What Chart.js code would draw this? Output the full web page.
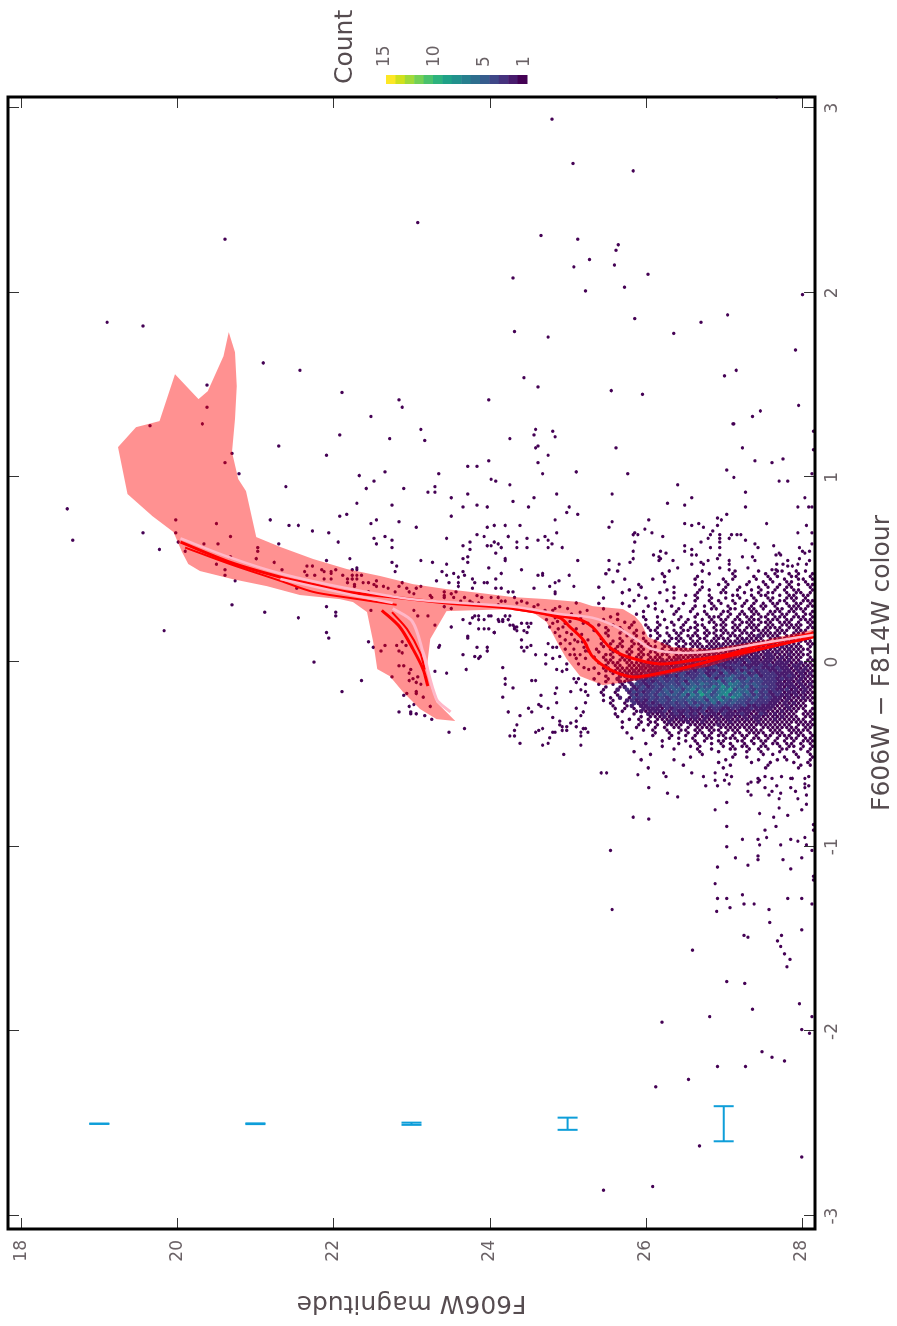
<!DOCTYPE html>
<html>
<head>
<meta charset="utf-8">
<title>F606W colour-magnitude diagram</title>
<script src="https://cdn.jsdelivr.net/npm/chart.js@4/dist/chart.umd.min.js"></script>
<style>
  html, body { margin: 0; background: #fff; overflow: hidden; width: 897px; height: 1326px; }
  /* the figure is a landscape page turned a quarter turn */
  #page { position: absolute; left: 0; top: 0; width: 1326px; height: 897px;
          transform-origin: 0 0; transform: translate(0, 1326px) rotate(-90deg); }
</style>
</head>
<body>
<div id="page"><canvas id="cmd" width="1326" height="897"></canvas></div>
<script>
// Tick labels
const colourTicks = [-3, -2, -1, 0, 1, 2, 3];
const magTicks = [18, 20, 22, 24, 26, 28];
const countTicks = [15, 10, 5, 1];

// Single stars as [F606W, colour]
const farStars = [[24.80,2.94],[25.07,2.70],[25.84,2.66],[23.08,2.38],[20.61,2.29],[24.66,2.31],[25.13,2.29],[25.65,2.26],[25.62,2.23],[25.28,2.18],[25.08,2.14],[25.60,2.15],[26.03,2.10],[24.30,2.08],[25.23,2.01],[25.73,2.03],[28.01,1.99],[19.10,1.84],[19.56,1.82],[25.86,1.86],[24.32,1.79],[26.36,1.78],[26.71,1.84],[27.05,1.88],[24.75,1.76],[27.92,1.69],[21.10,1.62],[21.57,1.58],[27.01,1.55],[27.16,1.58],[25.56,1.47],[24.44,1.54],[24.62,1.49],[25.96,1.45],[27.96,1.39],[22.11,1.46],[23.99,1.42],[27.47,1.36],[27.37,1.33],[27.12,1.29],[27.68,3.06],[20.38,1.50],[20.38,1.38],[19.65,1.28],[20.32,1.29],[21.30,1.17],[20.70,1.13],[20.61,1.08],[20.79,1.02],[21.39,0.95],[19.98,0.77],[21.19,0.77],[21.43,0.74],[21.55,0.74],[20.50,0.75],[19.56,0.70],[19.98,0.70],[20.68,0.68],[19.77,0.61],[20.01,0.65],[20.34,0.64],[20.52,0.64],[21.30,0.64],[21.03,0.62],[21.03,0.60],[21.01,0.56],[20.68,0.57],[20.10,0.60],[21.24,0.54],[21.34,0.50],[20.50,0.53],[20.61,0.50],[20.61,0.47],[20.74,0.44],[20.70,0.31],[21.12,0.27],[21.55,0.24],[21.53,0.40],[18.59,0.83],[18.66,0.66],[19.83,0.17],[21.75,0.00],[22.11,-0.16]];
const midStars = [[22.84,1.42],[22.88,1.38],[22.48,1.33],[23.12,1.26],[24.59,1.26],[24.57,1.23],[24.81,1.25],[24.84,1.22],[22.08,1.23],[24.26,1.21],[22.72,1.21],[23.17,1.20],[24.62,1.17],[24.59,1.16],[21.91,1.12],[24.75,1.12],[23.99,1.09],[24.62,1.08],[23.72,1.06],[23.84,1.06],[25.11,1.03],[22.66,1.03],[23.35,1.02],[24.68,1.02],[22.33,1.01],[22.52,0.98],[24.02,0.99],[24.08,0.98],[22.42,0.94],[22.90,0.94],[23.30,0.95],[23.30,0.92],[23.21,0.92],[24.26,0.96],[23.72,0.91],[24.86,0.91],[23.51,0.89],[24.57,0.89],[24.30,0.87],[22.30,0.86],[22.75,0.85],[23.84,0.85],[23.66,0.84],[23.97,0.84],[24.50,0.84],[25.02,0.84],[24.99,0.81],[25.13,0.80],[22.17,0.80],[22.08,0.79],[22.55,0.77],[23.51,0.79],[24.84,0.77],[22.84,0.76],[22.48,0.75],[23.97,0.73],[24.06,0.74],[24.20,0.74],[24.39,0.74],[23.06,0.73],[21.73,0.71],[21.94,0.70],[24.86,0.70],[23.84,0.69],[23.93,0.68],[24.24,0.68],[24.71,0.68],[22.52,0.67],[22.66,0.68],[22.75,0.66],[23.45,0.67],[22.06,0.65],[24.06,0.65],[24.48,0.67],[24.62,0.66],[24.75,0.66],[24.80,0.64],[22.55,0.64],[23.75,0.65],[24.11,0.64],[23.66,0.63],[24.02,0.63],[23.97,0.63],[24.35,0.65],[24.35,0.62],[24.15,0.62],[24.48,0.62],[22.75,0.62],[24.75,0.62],[24.93,0.62],[23.75,0.61],[24.08,0.59],[23.72,0.57],[22.21,0.56],[23.66,0.56],[24.20,0.56],[24.20,0.55],[25.13,0.55],[21.91,0.55],[23.12,0.55],[23.27,0.54],[22.75,0.54],[22.81,0.52],[23.45,0.53],[23.72,0.54],[23.99,0.51],[24.41,0.50],[23.66,0.49],[22.30,0.51],[22.30,0.50],[22.79,0.49],[23.39,0.49],[23.45,0.47],[23.54,0.48],[24.15,0.48],[23.60,0.46],[23.68,0.47],[24.68,0.48],[24.68,0.47],[24.62,0.47],[25.02,0.47],[24.08,0.45],[23.32,0.44],[23.48,0.43],[23.60,0.43],[23.78,0.45],[23.81,0.43],[23.97,0.43],[23.93,0.43],[24.89,0.44],[24.84,0.43],[24.77,0.41],[25.08,0.41],[23.60,0.41],[23.78,0.40],[24.08,0.40],[24.15,0.40],[24.57,0.40],[24.24,0.38],[24.30,0.38],[24.84,0.38],[24.84,0.37]];
const bandStars = [[21.66,0.52],[21.73,0.52],[21.63,0.49],[21.66,0.47],[21.76,0.47],[21.85,0.50],[21.88,0.49],[21.97,0.49],[21.97,0.48],[22.03,0.50],[21.88,0.45],[21.97,0.45],[22.12,0.47],[22.24,0.50],[22.24,0.47],[22.18,0.45],[22.30,0.47],[22.36,0.47],[22.24,0.45],[22.30,0.45],[22.18,0.43],[22.27,0.42],[22.27,0.41],[22.38,0.43],[22.45,0.43],[22.55,0.44],[22.52,0.42],[22.55,0.41],[22.45,0.38],[22.64,0.41],[22.70,0.40],[22.79,0.38],[22.84,0.41],[22.88,0.43],[22.94,0.40],[22.97,0.38],[23.03,0.37],[23.06,0.40],[23.12,0.41],[23.24,0.36],[23.26,0.35],[23.42,0.38],[23.42,0.36],[23.42,0.35],[23.51,0.37],[23.57,0.38],[23.54,0.35],[23.63,0.33],[23.68,0.35],[23.75,0.33],[23.78,0.32],[23.84,0.36],[23.90,0.35],[23.86,0.32],[24.02,0.35],[24.11,0.35],[24.15,0.33],[24.20,0.33],[24.32,0.35],[24.11,0.31],[24.35,0.32],[24.41,0.33],[24.48,0.32],[24.57,0.30],[24.62,0.31],[24.71,0.28],[24.84,0.29],[25.11,0.32],[23.51,0.29],[23.42,0.30]];
const lobeStars = [[21.91,0.30],[22.03,0.27],[22.03,0.25],[21.91,0.16],[21.94,0.13],[22.48,0.28],[23.03,0.28],[23.08,0.25],[23.21,0.25],[23.30,0.20],[23.51,0.19],[23.66,0.23],[23.75,0.21],[23.78,0.24],[23.81,0.25],[23.86,0.25],[23.86,0.23],[23.93,0.23],[23.99,0.25],[24.02,0.25],[24.11,0.23],[24.17,0.23],[24.20,0.25],[24.26,0.25],[24.24,0.23],[24.30,0.20],[24.35,0.19],[24.41,0.21],[24.48,0.21],[24.50,0.19],[24.44,0.17],[24.48,0.16],[24.53,0.21],[24.35,0.17],[24.32,0.18],[23.86,0.18],[23.93,0.18],[23.99,0.18],[24.06,0.16],[23.72,0.14],[23.72,0.13],[22.45,0.11],[22.51,0.08],[22.61,0.06],[22.66,0.09],[22.88,0.11],[22.93,0.09],[22.81,0.09],[22.84,0.06],[22.88,0.05],[22.84,-0.02],[22.90,-0.02],[22.99,-0.04],[22.97,-0.06],[23.30,-0.05],[23.45,-0.06],[23.70,-0.04],[22.75,-0.08],[23.02,-0.09],[23.08,-0.08],[22.97,-0.10],[23.06,-0.11],[23.12,-0.12],[22.36,-0.10],[23.06,-0.16],[22.94,-0.17],[22.90,-0.18],[23.06,-0.17],[23.03,-0.23],[23.15,-0.19],[22.97,-0.24],[23.24,-0.24],[22.84,-0.27],[22.99,-0.27],[22.99,-0.28],[23.06,-0.28],[23.17,-0.29],[23.26,-0.31],[23.48,-0.38],[23.68,-0.36],[23.36,0.09],[23.35,0.08],[23.66,0.04],[23.81,0.03],[23.86,0.02],[23.84,0.08],[23.97,0.08],[23.97,0.06],[23.88,0.03],[24.06,0.16]];
const turnoffStars = [[24.17,-0.03],[24.20,-0.09],[24.20,-0.12],[24.30,-0.14],[24.17,-0.19],[24.24,-0.27],[24.39,-0.29],[24.35,-0.34],[24.32,-0.37],[24.26,-0.40],[24.32,-0.40],[24.39,-0.44],[24.68,-0.45],[24.75,-0.44],[24.59,-0.38],[24.63,-0.37],[24.68,-0.36],[24.81,-0.38],[24.84,-0.38],[24.77,-0.41],[24.93,-0.37],[24.99,-0.37],[24.90,-0.34],[24.93,-0.35],[24.99,-0.35],[25.04,-0.33],[25.11,-0.32],[25.11,-0.35],[25.17,-0.29],[24.81,-0.30],[24.90,-0.32],[24.75,-0.25],[24.63,-0.23],[24.66,-0.24],[24.50,-0.25],[24.54,-0.27],[24.66,-0.18],[24.86,-0.22],[24.84,-0.17],[24.86,-0.14],[24.54,-0.10],[24.59,-0.10],[25.04,-0.16],[25.11,-0.25],[25.20,-0.27],[25.23,-0.36],[25.20,-0.36],[25.26,-0.38],[25.17,-0.38],[25.17,-0.40],[25.17,-0.45],[24.95,-0.50],[25.43,-0.60],[25.50,-0.60],[25.17,-0.15],[25.23,-0.12],[25.23,-0.16],[25.26,-0.18],[25.23,-0.22],[24.41,0.12],[24.53,0.09],[24.41,0.08],[24.48,0.08],[24.44,0.06],[24.75,0.10],[24.81,0.08],[24.86,0.08],[24.59,0.04],[24.72,0.04],[24.81,0.02],[24.90,0.03],[24.72,-0.01],[24.99,-0.01],[24.86,-0.04],[24.93,-0.05],[24.99,-0.04],[25.08,-0.09],[25.14,-0.09],[25.11,-0.11],[24.12,0.22],[24.17,0.22],[24.26,0.20],[24.32,0.19],[24.73,0.23],[24.77,0.19],[24.81,0.21],[24.84,0.16],[24.88,0.18],[24.90,0.14],[24.94,0.19],[24.97,0.12],[24.99,0.16],[25.03,0.10],[25.05,0.15],[25.08,0.07],[25.11,0.18],[25.13,0.11],[25.16,0.04],[25.18,0.15],[25.21,0.08],[25.23,0.02],[25.26,0.21],[25.26,0.12],[25.09,0.04],[25.14,-0.01],[25.21,-0.03],[25.27,-0.04],[25.03,0.22],[24.97,0.21],[24.91,0.10],[24.87,0.22],[25.20,0.21],[25.23,0.06],[25.11,0.02],[25.05,0.26],[25.16,0.27],[25.25,0.28],[25.00,0.29],[24.90,0.30],[24.81,0.28],[24.84,0.24],[25.17,0.24],[25.09,0.12],[25.19,0.11],[25.26,0.06],[25.03,0.04],[24.97,0.07]];
const faintBlueStars = [[25.90,-0.61],[26.23,-0.60],[26.26,-0.62],[26.59,-0.60],[26.74,-0.62],[26.89,-0.60],[27.04,-0.61],[27.10,-0.62],[26.89,-0.64],[27.01,-0.64],[26.92,-0.67],[27.07,-0.66],[26.77,-0.67],[27.31,-0.66],[27.35,-0.65],[27.44,-0.63],[27.44,-0.65],[27.46,-0.64],[27.53,-0.62],[27.62,-0.63],[27.74,-0.62],[27.86,-0.63],[27.88,-0.63],[28.04,-0.63],[28.09,-0.62],[28.04,-0.66],[28.09,-0.67],[27.53,-0.68],[27.68,-0.67],[27.86,-0.68],[28.04,-0.68],[26.04,-0.68],[27.31,-0.70],[27.62,-0.70],[27.92,-0.70],[26.28,-0.71],[27.35,-0.72],[27.73,-0.71],[27.58,-0.72],[28.06,-0.72],[26.41,-0.73],[27.71,-0.74],[27.95,-0.74],[27.04,-0.76],[28.06,-0.77],[26.89,-0.80],[27.71,-0.79],[28.00,-0.80],[27.46,-0.82],[27.82,-0.83],[25.84,-0.84],[26.04,-0.85],[27.64,-0.84],[27.04,-0.89],[27.67,-0.89],[27.53,-0.91],[27.55,-0.95],[28.15,-0.88],[28.15,-0.91],[28.04,-0.95],[27.24,-0.96],[27.44,-0.96],[27.86,-0.96],[27.95,-0.97],[27.46,-0.99],[27.73,-0.99],[27.04,-1.00],[28.06,-0.99],[25.55,-1.02],[28.13,-1.02],[27.15,-1.06],[27.44,-1.05],[27.44,-1.07],[27.76,-1.07],[28.00,-1.06],[27.31,-1.10],[26.92,-1.11],[27.86,-1.12],[28.15,-1.16],[28.15,-1.18],[26.89,-1.20],[27.24,-1.26],[26.92,-1.28],[27.04,-1.28],[27.82,-1.28],[25.57,-1.34],[27.08,-1.33],[27.26,-1.31],[27.39,-1.31],[27.58,-1.34],[28.00,-1.28],[28.13,-1.31],[26.91,-1.35],[27.59,-1.41],[27.26,-1.48],[27.31,-1.49],[27.74,-1.48],[28.00,-1.45],[27.69,-1.51],[27.73,-1.54],[27.78,-1.58],[27.85,-1.61],[27.81,-1.65],[27.27,-1.74],[27.04,-1.73],[26.60,-1.56],[27.37,-1.88],[27.97,-1.85],[28.13,-1.92],[26.21,-1.95],[26.82,-1.92],[28.00,-1.99],[28.10,-2.01],[27.49,-2.11],[27.62,-2.14],[27.78,-2.16],[27.28,-2.19],[26.92,-2.19],[26.55,-2.26],[26.13,-2.30],[26.69,-2.62],[28.00,-2.68],[26.09,-2.84],[25.46,-2.86]];
const faintRedStars = [[27.13,1.29],[28.15,1.25],[25.62,1.16],[27.24,1.16],[28.15,1.15],[27.40,1.09],[27.62,1.08],[27.76,1.10],[27.04,1.04],[25.77,1.02],[28.13,1.02],[27.13,1.00],[27.71,0.98],[27.82,0.98],[26.41,0.96],[25.57,0.91],[27.28,0.92],[26.59,0.89],[28.04,0.89],[26.28,0.86],[26.50,0.85],[27.28,0.84],[27.95,0.84],[28.09,0.84],[28.13,0.84],[27.04,0.80],[26.92,0.78],[26.97,0.77],[26.04,0.77],[25.57,0.76],[26.50,0.75],[26.68,0.75],[26.92,0.74],[26.59,0.74],[26.74,0.73],[27.55,0.75],[28.06,0.74],[25.53,0.73],[25.99,0.72],[26.86,0.71],[25.86,0.70],[26.08,0.70],[25.84,0.69],[25.90,0.69],[26.83,0.69],[26.95,0.69],[27.10,0.69],[27.17,0.69],[27.22,0.69],[27.95,0.70],[28.13,0.70],[26.22,0.68],[26.80,0.67],[26.95,0.67],[27.07,0.67],[27.28,0.66],[25.86,0.65],[26.71,0.65],[26.95,0.65],[27.40,0.64],[28.13,0.64],[26.50,0.63],[26.83,0.62],[26.95,0.62],[27.44,0.62],[27.64,0.63],[27.97,0.62],[25.84,0.60],[26.19,0.60],[26.59,0.61],[26.50,0.60],[28.01,0.60],[28.04,0.59],[28.10,0.60],[26.10,0.58],[26.26,0.59],[26.59,0.58],[26.65,0.58],[26.95,0.58],[27.67,0.58],[27.71,0.59],[27.73,0.58],[26.17,0.57],[26.19,0.56],[26.17,0.55],[26.92,0.56],[27.24,0.57],[27.37,0.57],[27.97,0.56],[28.10,0.55],[25.84,0.56],[26.35,0.55],[27.07,0.55],[27.40,0.55],[25.53,0.55],[26.80,0.55],[26.71,0.54],[26.74,0.53],[25.66,0.53],[25.80,0.54],[26.59,0.53],[27.07,0.53],[27.68,0.53],[27.76,0.53],[27.82,0.55],[27.95,0.53],[28.06,0.53],[27.88,0.52],[25.53,0.50],[26.41,0.51],[26.95,0.51],[27.07,0.50],[27.31,0.51],[27.82,0.52],[27.67,0.50],[27.62,0.50]];

// Hexbin counts in the crowded faint part, one string per colour row, one hex digit per bin
const hexFirstMag = 25.28;
const hexMagStep = 0.0602;
const hexFirstColour = 0.493;
const hexColourStep = -0.0146;
const hexCounts = [
  '000000100000000001000000100000010000100011001010',
  '000100000000000100000000010000100000010100101001',
  '000000000000000010000001000000010001001010011001',
  '000000010000010000000010000010100001001001001101',
  '000001000000000010000000100001000010010100110010',
  '000000000010000000000010000101000100010010101011',
  '001000000001000000100000100001001000101010110001',
  '000000001000000010000001010010010010100101011001',
  '000000010000000100100001000011000100101100101101',
  '000000000010000000001010010000110010110010110110',
  '000100000000100000100001001001001001001100111010',
  '000000000100000010000010010100100101001011010111',
  '001000010000001000001000001010010101010110101101',
  '000000001000100001000010101001001010110100111011',
  '000100000000001000010010001100110011010011011110',
  '000000000001000100100100100011001011001110110101',
  '000000100010000000100001010010101101101101101011',
  '000010000001001000010010011101010110110111011101',
  '000100100000100010010100101011011011101110110111',
  '000000010100001001001010011010101110111011101011',
  '001001000100100100101001100111011011101101111101',
  '000100101000101010010110101010110111011110111011',
  '010010010010011000101101010111011101111011101110',
  '000100100101001010110010111011101110111111011101',
  '000010001010010101010111010110111011211110111011',
  '001000100101001001110101101111011111101121111110',
  '000101010100101011011011011101111211111011210111',
  '001010100110100110101111011111121111212111111011',
  '000100110101011011011011111121111211111212111101',
  '010011001011010101111101112111211121211111211110',
  '001001101101011011101111121111212122112121111101',
  '000110101011101110111211112121112212122111211110',
  '010101011011011101121112121212221212212212111101',
  '000110111010111211211121212222122322122121211011',
  '001011101111122121232323212232223132222122211211',
  '000101101112212221231222323223332222323222122111',
  '010110111112122232232323323432233423322232212121',
  '000111111212122331323324322343242342332232212211',
  '001001012121322323434233423425334523233322221212',
  '000100211321323323243334524334543435233322321211',
  '010010201223233433434434454245643354433323221211',
  '000100212032323434342545445635464534433321212111',
  '001001010243234344435354654464765445433322221212',
  '000100120234234345445565447585654635443321221211',
  '000100203324334354553574656476946543433322312121',
  '001001002432343453546648574678565636342331221211',
  '000100100324343545546375964578467453433232212111',
  '000010201433343434454656465746865445343221211211',
  '000101002323243443544545536575454434333221211111',
  '000010010322323434343534546354544343332212121101',
  '000001001202233233434345343443433422322211211110',
  '000001010102222132333232423322332232222111211101',
  '000000010012122231322322312323212221221112111011',
  '000001000100211212323231322132223211321211110111',
  '000000100001011121221322121212211212211112111011',
  '000000001010101112122121211212121212111211111101',
  '000000010001011012111211211111211111211111111111',
  '000000000010101011110111111211111111111111101111',
  '000000010010001010110101111011111111011111111011',
  '000000000001010010011011011101110111101110111110',
  '000000001000001001010101101011011011110111011101',
  '000000000000010001001010110110101101011011101101',
  '000000000100000001010010011001110101101010111011',
  '000000000000000100001010100110011010110101010111',
  '000000000000100000010001001010100101010110110101',
  '000000000000000100000101000010101100110010110101',
  '000000000000000000100001001000110010101001100101',
  '000000000100000000000001000100000100100010010010',
  '000000000000010000000000100000010000010100001001',
  '000000000000000000000100000000100100000001001001',
  '000000000001000000100000000001000000100010100001',
  '000000000000000000000000000100000010001000010010',
  '000000000000000000001000000000100000001000000101',
  '000000000000100000000000000010000000010000001000',
];

// Model envelope outline, as [F606W, colour]
const envelope = [[20.66,1.787],[20.74,1.678],[20.76,1.494],[20.74,1.316],[20.70,1.137],[20.78,0.991],[20.88,0.926],[21.01,0.677],[21.32,0.623],[21.74,0.558],[22.17,0.504],[22.60,0.466],[23.02,0.422],[23.45,0.395],[23.88,0.374],[24.30,0.352],[24.73,0.341],[25.16,0.325],[25.32,0.303],[25.71,0.287],[25.86,0.249],[25.95,0.206],[26.03,0.135],[26.35,0.081],[26.82,0.070],[27.46,0.114],[28.19,0.179],[28.19,0.135],[27.46,0.060],[26.82,-0.022],[26.18,-0.076],[25.76,-0.108],[25.45,-0.125],[25.16,-0.076],[24.99,0.016],[24.90,0.081],[24.73,0.217],[24.55,0.271],[24.30,0.287],[23.45,0.276],[23.24,0.125],[23.20,-0.022],[23.24,-0.119],[23.32,-0.217],[23.56,-0.319],[23.32,-0.309],[23.11,-0.254],[22.89,-0.162],[22.72,-0.076],[22.56,-0.038],[22.51,0.108],[22.43,0.271],[22.25,0.325],[22.08,0.341],[21.57,0.363],[21.15,0.411],[20.71,0.449],[20.29,0.493],[20.14,0.531],[20.06,0.596],[19.95,0.704],[19.68,0.790],[19.36,0.910],[19.24,1.164],[19.47,1.272],[19.77,1.305],[19.97,1.559],[20.27,1.424],[20.39,1.467],[20.59,1.657]];

// Isochrones as [F606W, colour]
const isoRedA = [[20.04,0.65],[20.68,0.54],[21.32,0.46],[21.74,0.42],[22.17,0.38],[22.81,0.35],[23.45,0.32],[24.30,0.29],[24.90,0.24],[25.03,0.19],[25.20,0.12],[25.32,0.03],[25.54,-0.04],[25.83,-0.08],[26.18,-0.06],[26.60,-0.02],[27.04,0.03],[27.46,0.07],[28.19,0.14]];
const isoRedB = [[24.30,0.29],[24.90,0.25],[25.16,0.23],[25.32,0.19],[25.54,0.08],[25.76,0.03],[26.18,-0.01],[26.60,0.01],[27.04,0.04],[27.46,0.09],[28.19,0.16]];
const isoRedGiant = [[20.10,0.62],[20.68,0.53],[21.32,0.44],[21.74,0.38],[22.17,0.35],[22.81,0.31]];
const isoRedHbA = [[22.62,0.28],[22.85,0.19],[23.02,0.07],[23.15,-0.04],[23.21,-0.13]];
const isoRedHbB = [[22.75,0.27],[22.94,0.18],[23.11,0.05],[23.17,-0.04]];
const isoPinkMain = [[20.04,0.67],[20.65,0.57],[21.32,0.48],[22.17,0.40],[23.02,0.34],[24.30,0.30],[24.90,0.26],[25.32,0.24],[25.63,0.19],[25.89,0.12],[26.09,0.07],[26.44,0.05],[26.91,0.06],[27.46,0.10],[28.19,0.15]];
const isoPinkGiant = [[21.32,0.45],[22.17,0.37],[22.76,0.32]];
const isoPinkHb = [[22.76,0.29],[23.01,0.22],[23.15,0.05],[23.32,-0.20],[23.50,-0.27]];

// Typical errors
const errorColour = -2.5;
const errorMags = [19, 21, 23, 25, 27];
const errorSizes = [0.001, 0.002, 0.006, 0.033, 0.095];

// Count colours, from 1 to 15
const countColours = ['#440154','#481b6d','#46327e','#3f4788','#365c8d','#2e6e8e','#277f8e','#21918c','#1fa187','#2db27d','#4ac16d','#73d056','#a0da39','#d0e11c','#fde725'];

const FONT = '"DejaVu Sans", sans-serif';
const TEXT_GREY = '#6a6266';
const TITLE_GREY = '#564c50';

const toPoints = list => list.map(p => ({ x: p[1], y: p[0] }));

// Expand the count strings into bins, rows are staggered by half a bin
const hexPoints = [];
const hexColours = [];
const hexRadii = [];
hexCounts.forEach((row, r) => {
  [...row].forEach((ch, c) => {
    const count = parseInt(ch, 16);
    if (!count) return;
    hexPoints.push({
      x: hexFirstColour + r * hexColourStep,
      y: hexFirstMag + (c + (r % 2) / 2) * hexMagStep,
    });
    hexColours.push(countColours[count - 1]);
    hexRadii.push(count === 1 ? 1.8 : 2.3);
  });
});

const allStars = [...farStars, ...midStars, ...bandStars, ...lobeStars, ...turnoffStars, ...faintBlueStars, ...faintRedStars];

function isoLine(points, color, width, order) {
  return {
    data: toPoints(points), showLine: true, borderColor: color, borderWidth: width,
    pointRadius: 0, tension: 0.3, fill: false, order: order,
  };
}

const errorBars = errorMags.map((mag, i) => ({
  data: [
    { x: errorColour - errorSizes[i], y: mag },
    { x: errorColour + errorSizes[i], y: mag },
  ],
  showLine: true, borderColor: '#0e9ed9', borderWidth: 2, order: 1,
  pointStyle: 'line', pointRotation: 90, pointRadius: 10,
  pointBorderColor: '#0e9ed9', pointBorderWidth: 2,
}));

// Frame and inward ticks on all four sides
const framePlugin = {
  id: 'frame',
  afterDatasetsDraw(chart) {
    const { ctx, chartArea: a, scales } = chart;
    ctx.save();
    ctx.strokeStyle = '#333';
    ctx.lineWidth = 1;
    ctx.beginPath();
    scales.x.ticks.forEach(t => {
      const px = Math.round(scales.x.getPixelForValue(t.value)) + 0.5;
      ctx.moveTo(px, a.top); ctx.lineTo(px, a.top + 11);
      ctx.moveTo(px, a.bottom); ctx.lineTo(px, a.bottom - 11);
    });
    scales.y.ticks.forEach(t => {
      const py = Math.round(scales.y.getPixelForValue(t.value)) + 0.5;
      ctx.moveTo(a.left, py); ctx.lineTo(a.left + 11, py);
      ctx.moveTo(a.right, py); ctx.lineTo(a.right - 11, py);
    });
    ctx.stroke();
    ctx.strokeStyle = '#000';
    ctx.lineWidth = 3;
    ctx.strokeRect(a.left, a.top, a.right - a.left, a.bottom - a.top);
    ctx.restore();
  },
};

// Colour bar for the hexbin counts
const colourBarPlugin = {
  id: 'colourBar',
  afterDraw(chart) {
    const { ctx } = chart;
    const left = 1242, width = 9, top = 386, height = 141;
    const step = height / countColours.length;
    ctx.save();
    [...countColours].reverse().forEach((c, i) => {
      ctx.fillStyle = c;
      ctx.fillRect(left, top + i * step, width, step + 0.5);
    });
    ctx.fillStyle = TEXT_GREY;
    ctx.font = '17px ' + FONT;
    ctx.textAlign = 'left';
    ctx.textBaseline = 'middle';
    const labelY = [385, 435, 485, 525];
    countTicks.forEach((v, i) => ctx.fillText(String(v), 1259, labelY[i]));
    ctx.fillStyle = TITLE_GREY;
    ctx.font = '25px ' + FONT;
    ctx.fillText('Count', 1242, 345);
    ctx.restore();
  },
};

new Chart(document.getElementById('cmd'), {
  type: 'scatter',
  data: {
    datasets: [
      { data: hexPoints, pointBackgroundColor: hexColours, pointBorderWidth: 0, pointRadius: hexRadii, order: 6 },
      { data: toPoints(allStars), pointBackgroundColor: countColours[0], pointBorderWidth: 0, pointRadius: 1.7, order: 5 },
      { data: toPoints(envelope), showLine: true, fill: 'shape', borderWidth: 0, pointRadius: 0,
        backgroundColor: 'rgba(255, 0, 0, 0.43)', order: 4 },
      isoLine(isoRedA, '#ff0000', 3, 3),
      isoLine(isoRedB, '#ff0000', 3, 3),
      isoLine(isoRedGiant, '#ff0000', 2, 3),
      isoLine(isoRedHbA, '#ff0000', 3, 3),
      isoLine(isoRedHbB, '#ff0000', 2, 3),
      isoLine(isoPinkMain, '#ffb8c8', 2.5, 2),
      isoLine(isoPinkGiant, '#ffb8c8', 2.5, 2),
      isoLine(isoPinkHb, '#ffb8c8', 3, 2),
      ...errorBars,
    ],
  },
  options: {
    responsive: false,
    animation: false,
    devicePixelRatio: 1,
    events: [],
    layout: { autoPadding: false, padding: { left: 0, top: 8, right: 97, bottom: 0 } },
    plugins: { legend: { display: false }, tooltip: { enabled: false } },
    scales: {
      x: {
        type: 'linear', min: -3.07, max: 3.06,
        afterBuildTicks: s => { s.ticks = colourTicks.map(v => ({ value: v })); },
        afterFit: s => { s.height = 82; s.paddingLeft = 0; s.paddingRight = 0; },
        grid: { display: false, drawTicks: false },
        border: { display: false },
        ticks: { color: TEXT_GREY, font: { family: FONT, size: 17 }, padding: 7, maxRotation: 0, autoSkip: false, callback: v => String(v) },
        title: { display: true, text: 'F606W \u2212 F814W colour', color: TITLE_GREY, font: { family: FONT, size: 25 }, padding: { top: 0, bottom: 0 } },
      },
      y: {
        type: 'linear', reverse: true, min: 17.83, max: 28.17,
        afterBuildTicks: s => { s.ticks = magTicks.map(v => ({ value: v })); },
        afterFit: s => { s.width = 97; s.paddingTop = 0; s.paddingBottom = 0; },
        grid: { display: false, drawTicks: false },
        border: { display: false },
        ticks: { color: TEXT_GREY, font: { family: FONT, size: 17 }, padding: 11, autoSkip: false, callback: v => String(v) },
        title: { display: true, text: 'F606W magnitude', color: TITLE_GREY, font: { family: FONT, size: 25 }, padding: { top: 8, bottom: 0 } },
      },
    },
  },
  plugins: [framePlugin, colourBarPlugin],
});
</script>
</body>
</html>
